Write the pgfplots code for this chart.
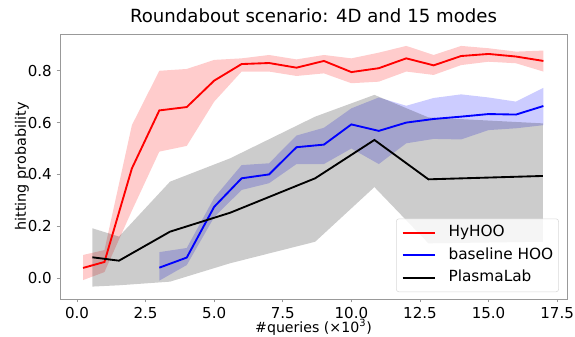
\documentclass[border=0pt]{standalone}
\usepackage{pgfplots}
\pgfplotsset{compat=1.18}
\usepackage{pgfplotstable}
\usepgfplotslibrary{fillbetween}
\usepackage{fontspec}
\setmainfont{DejaVu Sans}

\pgfplotstableread{
x y lo hi
0.22 0.039 -0.008 0.089
1 0.062 0.023 0.108
2 0.423 0.26 0.59
3 0.647 0.488 0.80
4 0.66 0.51 0.807
5 0.762 0.681 0.842
6 0.826 0.797 0.848
7 0.83 0.797 0.861
8 0.812 0.78 0.844
9 0.838 0.79 0.861
10 0.795 0.752 0.848
11 0.81 0.758 0.87
12 0.848 0.797 0.896
13 0.821 0.784 0.861
14 0.857 0.822 0.896
15 0.865 0.835 0.887
16 0.855 0.829 0.874
17 0.838 0.797 0.878
}\hyhoo

\pgfplotstableread{
x y lo hi
3 0.04 -0.01 0.10
4 0.079 0.05 0.116
5 0.275 0.235 0.31
6 0.385 0.34 0.436
7 0.40 0.366 0.443
8 0.505 0.44 0.55
9 0.515 0.44 0.58
10 0.593 0.50 0.655
11 0.568 0.44 0.697
12 0.60 0.52 0.665
13 0.614 0.537 0.695
14 0.623 0.535 0.709
15 0.633 0.571 0.697
16 0.631 0.578 0.681
17 0.664 0.59 0.734
}\hoo

\pgfplotstableread{
x y lo hi
0.56 0.08 -0.033 0.192
1.53 0.067 -0.028 0.16
3.39 0.179 -0.014 0.372
5.58 0.252 0.057 0.462
8.68 0.385 0.14 0.623
10.84 0.533 0.351 0.707
12.81 0.381 0.134 0.62
16.98 0.394 0.14 0.597
}\plasma

\begin{document}
\begin{tikzpicture}
\begin{axis}[
  name=ax,
  scale only axis,
  width=380.25pt, height=198.75pt,
  xmin=-0.62, xmax=17.86, ymin=-0.081, ymax=0.942,
  xtick={0,2.5,5,7.5,10,12.5,15,17.5},
  ytick={0,0.2,0.4,0.6,0.8},
  /pgf/number format/assume math mode=true,
  /pgf/number format/.cd, fixed, fixed zerofill, precision=1, /pgfplots/.cd,
  tick label style={font=\fontsize{11.3}{13}\selectfont, text=black},
  axis line style={black!40, line width=0.6pt},
  tick style={black!40, line width=0.6pt},
  tick align=outside,
  tick pos=left,
  major tick length=2.6pt,
  title={Roundabout scenario: 4D and 15 modes},
  title style={at={(axis description cs:0.5,1.014)}, anchor=base, font=\fontsize{13.6}{16}\selectfont},
  xlabel={\#queries (×10\textsuperscript{3})},
  xlabel style={at={(axis description cs:0.5,-0.1245)}, anchor=base, font=\fontsize{10.6}{13}\selectfont},
  ylabel={hitting probability},
  ylabel style={at={(axis description cs:-0.0671,0.5)}, anchor=base, font=\fontsize{10.8}{13}\selectfont},
  legend cell align=left,
  legend image code/.code={\draw[#1] (0pt,0pt) -- (24pt,0pt);},
  legend style={at={(axis description cs:0.984,0.026)}, anchor=south east,
    draw=black!15, rounded corners=2pt, fill=white, fill opacity=0.8, text opacity=1,
    font=\fontsize{11.5}{13}\selectfont,
    nodes={inner sep=0pt, text height=8.5pt, text depth=2.5pt},
    row sep=5.9pt, column sep=9.75pt, inner xsep=4pt, inner ysep=5pt},
]
\addplot[name path=rh, draw=none, forget plot] table[x=x,y=hi]{\hyhoo};
\addplot[name path=rl, draw=none, forget plot] table[x=x,y=lo]{\hyhoo};
\addplot[red, fill opacity=0.2, draw=none, forget plot] fill between[of=rh and rl];
\addplot[name path=bh, draw=none, forget plot] table[x=x,y=hi]{\hoo};
\addplot[name path=bl, draw=none, forget plot] table[x=x,y=lo]{\hoo};
\addplot[blue, fill opacity=0.2, draw=none, forget plot] fill between[of=bh and bl];
\addplot[name path=kh, draw=none, forget plot] table[x=x,y=hi]{\plasma};
\addplot[name path=kl, draw=none, forget plot] table[x=x,y=lo]{\plasma};
\addplot[black, fill opacity=0.2, draw=none, forget plot] fill between[of=kh and kl];
\addplot[red, line width=1.4pt] table[x=x,y=y]{\hyhoo};
\addlegendentry{HyHOO}
\addplot[blue, line width=1.4pt] table[x=x,y=y]{\hoo};
\addlegendentry{baseline HOO}
\addplot[black, line width=1.4pt] table[x=x,y=y]{\plasma};
\addlegendentry{PlasmaLab}
\end{axis}
\pgfresetboundingbox
\path ([xshift=-45pt,yshift=-27.75pt]ax.south west) rectangle ([xshift=6pt,yshift=25.5pt]ax.north east);
\end{tikzpicture}
\end{document}
